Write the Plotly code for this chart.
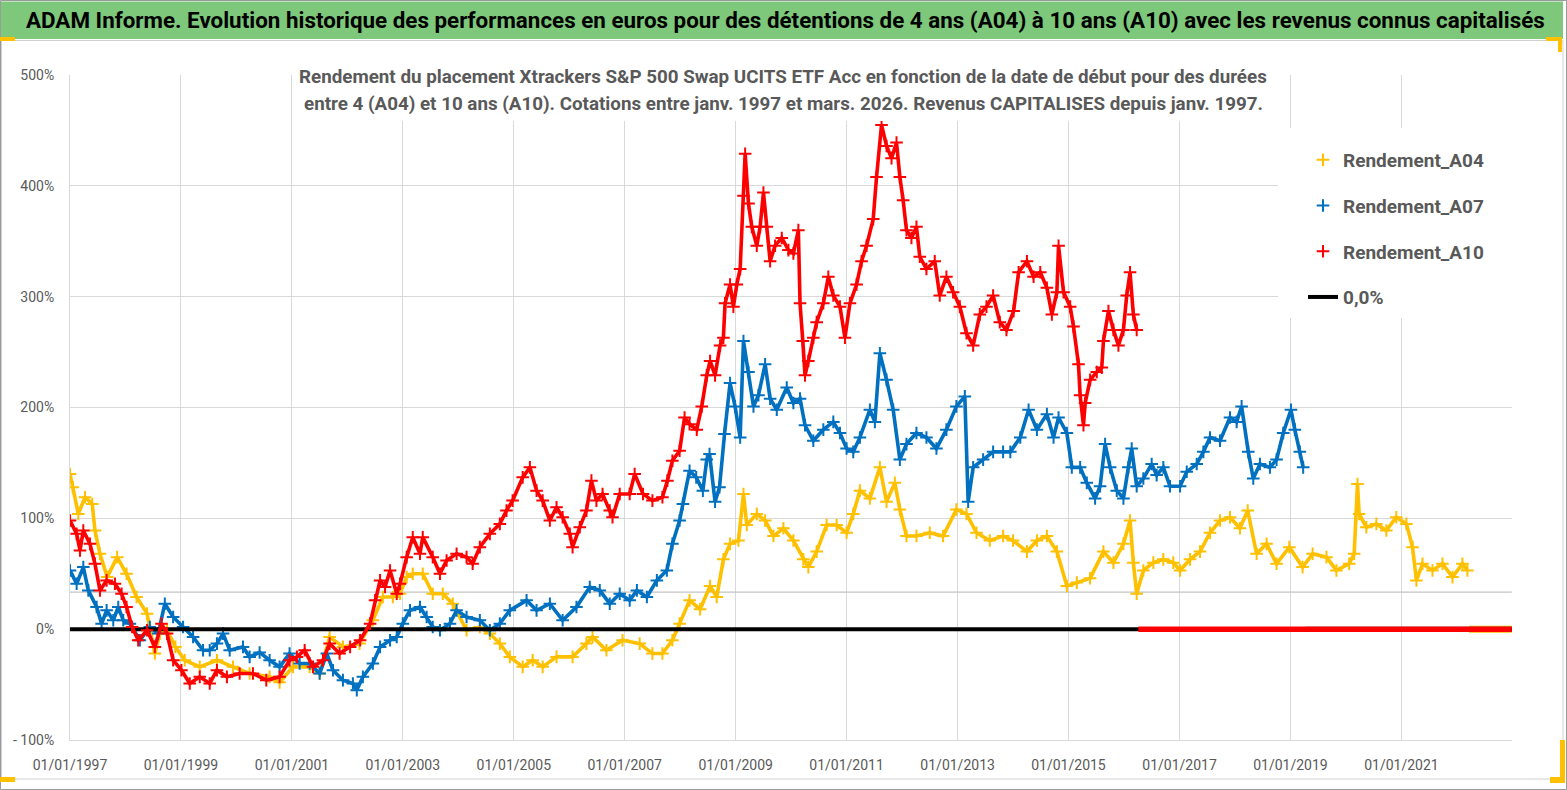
import plotly.graph_objects as go
import pandas as pd

W, H = 1567, 790
L, R, T, B = 70, 55, 75, 50

FONT = "Roboto, sans-serif"

title = ("ADAM Informe. Evolution historique des performances en euros pour des détentions "
         "de 4 ans (A04) à 10 ans (A10) avec les revenus connus capitalisés")
subtitle1 = "Rendement du placement Xtrackers S&amp;P 500 Swap UCITS ETF Acc en fonction de la date de début pour des durées"
subtitle2 = "entre 4 (A04) et 10 ans (A10). Cotations entre janv. 1997 et mars. 2026. Revenus CAPITALISES depuis janv. 1997."

y_tickvals = [-100, 0, 100, 200, 300, 400, 500]
y_ticktext = ["- 100%", "0%", "100%", "200%", "300%", "400%", "500%"]

# ---- Rendement_A04 (start date as decimal year, return in %) ----
a04_t = [1997.00, 1997.05, 1997.15, 1997.27, 1997.40, 1997.45, 1997.54, 1997.67, 1997.85, 1998.02,
         1998.20, 1998.39, 1998.53, 1998.62, 1998.75, 1998.90, 1999.07, 1999.34, 1999.65, 1999.94,
         2000.24, 2000.60, 2000.78, 2001.02, 2001.32, 2001.50, 2001.68, 2001.92, 2002.22, 2002.46,
         2002.64, 2002.82, 2002.95, 2003.07, 2003.18, 2003.36, 2003.54, 2003.72, 2003.90, 2004.15,
         2004.39, 2004.57, 2004.75, 2004.93, 2005.16, 2005.34, 2005.52, 2005.77, 2006.06, 2006.31,
         2006.42, 2006.67, 2006.96, 2007.27, 2007.50, 2007.68, 2007.86, 2007.99, 2008.17, 2008.36,
         2008.54, 2008.66, 2008.78, 2008.90, 2009.05, 2009.14, 2009.20, 2009.38, 2009.53, 2009.68,
         2009.86, 2010.04, 2010.22, 2010.31, 2010.46, 2010.64, 2010.82, 2011.00, 2011.12, 2011.24,
         2011.42, 2011.60, 2011.72, 2011.87, 2011.96, 2012.08, 2012.26, 2012.50, 2012.74, 2012.98,
         2013.16, 2013.34, 2013.58, 2013.82, 2014.00, 2014.25, 2014.43, 2014.61, 2014.79, 2014.97,
         2015.15, 2015.39, 2015.63, 2015.81, 2015.99, 2016.11, 2016.17, 2016.23, 2016.35, 2016.53,
         2016.71, 2016.89, 2017.01, 2017.19, 2017.37, 2017.55, 2017.73, 2017.91, 2018.09, 2018.23,
         2018.39, 2018.57, 2018.75, 2018.98, 2019.22, 2019.40, 2019.65, 2019.83, 2020.06, 2020.15,
         2020.21, 2020.24, 2020.37, 2020.55, 2020.73, 2020.91, 2021.09, 2021.20, 2021.27, 2021.38,
         2021.56, 2021.74, 2021.92, 2022.10, 2022.19]
a04_v = [140, 128, 104, 119, 113, 89, 68, 47, 65, 50,
         29, 14, -22, -4, -1, -16, -28, -34, -28, -34,
         -40, -43, -48, -34, -34, -40, -7, -16, -13, 8,
         29, 29, 32, 47, 50, 50, 32, 32, 23, -1,
         2, -4, -13, -25, -34, -28, -34, -25, -25, -13,
         -7, -19, -10, -13, -22, -22, -10, 5, 26, 18,
         39, 29, 63, 77, 80, 122, 94, 104, 98, 84,
         91, 80, 63, 56, 70, 94, 94, 87, 104, 125,
         118, 146, 115, 132, 108, 84, 84, 87, 84, 108,
         104, 87, 80, 84, 80, 70, 80, 84, 70, 39,
         42, 46, 70, 60, 77, 98, 60, 32, 53, 60,
         63, 60, 53, 63, 70, 87, 98, 101, 91, 107,
         68, 77, 59, 74, 56, 68, 65, 53, 59, 68,
         131, 104, 92, 95, 89, 101, 95, 74, 44, 59,
         53, 59, 47, 59, 53]

# ---- Rendement_A07 ----
a07_t = [1997.00, 1997.12, 1997.24, 1997.33, 1997.48, 1997.57, 1997.66, 1997.78, 1997.87, 1997.96,
         1998.08, 1998.26, 1998.44, 1998.59, 1998.71, 1998.86, 1999.04, 1999.22, 1999.40, 1999.52,
         1999.65, 1999.76, 1999.88, 2000.12, 2000.24, 2000.42, 2000.60, 2000.78, 2000.96, 2001.14,
         2001.32, 2001.50, 2001.63, 2001.74, 2001.92, 2002.10, 2002.17, 2002.28, 2002.46, 2002.59,
         2002.77, 2002.89, 2003.00, 2003.13, 2003.31, 2003.43, 2003.54, 2003.67, 2003.85, 2003.97,
         2004.15, 2004.39, 2004.57, 2004.75, 2004.93, 2005.23, 2005.41, 2005.65, 2005.88, 2006.13,
         2006.37, 2006.55, 2006.73, 2006.91, 2007.09, 2007.22, 2007.40, 2007.58, 2007.76, 2007.86,
         2007.99, 2008.05, 2008.17, 2008.29, 2008.41, 2008.48, 2008.53, 2008.63, 2008.71, 2008.80,
         2008.90, 2008.99, 2009.08, 2009.14, 2009.23, 2009.32, 2009.41, 2009.53, 2009.62, 2009.74,
         2009.92, 2010.04, 2010.16, 2010.25, 2010.40, 2010.58, 2010.76, 2010.88, 2011.00, 2011.12,
         2011.24, 2011.42, 2011.51, 2011.60, 2011.72, 2011.84, 2011.96, 2012.08, 2012.26, 2012.44,
         2012.62, 2012.80, 2012.98, 2013.13, 2013.19, 2013.28, 2013.46, 2013.64, 2013.82, 2013.95,
         2014.13, 2014.28, 2014.43, 2014.61, 2014.73, 2014.82, 2014.97, 2015.06, 2015.21, 2015.33,
         2015.48, 2015.57, 2015.66, 2015.75, 2015.87, 2015.99, 2016.08, 2016.14, 2016.23, 2016.35,
         2016.50, 2016.59, 2016.71, 2016.83, 2017.01, 2017.13, 2017.31, 2017.43, 2017.55, 2017.73,
         2017.91, 2018.03, 2018.12, 2018.24, 2018.33, 2018.45, 2018.63, 2018.75, 2018.87, 2019.01,
         2019.08, 2019.17, 2019.23]
a07_v = [53, 41, 56, 35, 20, 5, 17, 8, 20, 8,
         5, -10, 2, -4, 23, 11, 2, -7, -19, -19,
         -13, -4, -19, -16, -25, -21, -28, -34, -22, -31,
         -31, -40, -22, -37, -46, -49, -55, -43, -31, -16,
         -10, -7, 5, 17, 20, 11, 2, -1, 5, 17,
         11, 8, -1, 5, 17, 26, 17, 23, 8, 20,
         38, 35, 23, 32, 26, 35, 29, 44, 53, 77,
         98, 113, 143, 137, 125, 153, 158, 115, 128, 176,
         222, 201, 173, 260, 232, 201, 211, 239, 208, 198,
         218, 204, 208, 184, 170, 180, 187, 177, 163, 160,
         173, 198, 187, 249, 225, 198, 153, 167, 177, 173,
         163, 180, 201, 210, 115, 146, 153, 160, 160, 160,
         173, 198, 180, 194, 173, 191, 177, 146, 146, 132,
         118, 129, 167, 146, 125, 118, 146, 163, 129, 136,
         149, 139, 146, 129, 129, 142, 149, 160, 173, 170,
         191, 187, 201, 160, 136, 149, 146, 153, 177, 198,
         180, 160, 146]

# ---- Rendement_A10 ----
a10_t = [1997.00, 1997.12, 1997.18, 1997.24, 1997.36, 1997.45, 1997.54, 1997.66, 1997.81, 1997.93,
         1998.02, 1998.12, 1998.23, 1998.39, 1998.53, 1998.65, 1998.75, 1998.86, 1999.01, 1999.16,
         1999.34, 1999.52, 1999.65, 1999.83, 2000.06, 2000.30, 2000.54, 2000.78, 2000.96, 2001.09,
         2001.23, 2001.38, 2001.56, 2001.68, 2001.86, 2002.05, 2002.23, 2002.41, 2002.50, 2002.59,
         2002.68, 2002.77, 2002.89, 2002.95, 2003.07, 2003.18, 2003.31, 2003.36, 2003.54, 2003.67,
         2003.79, 2003.97, 2004.15, 2004.26, 2004.39, 2004.57, 2004.75, 2004.87, 2004.98, 2005.16,
         2005.29, 2005.41, 2005.52, 2005.65, 2005.77, 2005.88, 2006.01, 2006.06, 2006.19, 2006.31,
         2006.40, 2006.49, 2006.60, 2006.73, 2006.78, 2006.91, 2007.09, 2007.18, 2007.33, 2007.50,
         2007.68, 2007.77, 2007.86, 2007.99, 2008.08, 2008.17, 2008.30, 2008.39, 2008.48, 2008.54,
         2008.63, 2008.72, 2008.78, 2008.81, 2008.90, 2008.96, 2009.02, 2009.08, 2009.14, 2009.17,
         2009.23, 2009.29, 2009.38, 2009.44, 2009.50, 2009.56, 2009.62, 2009.71, 2009.83, 2009.95,
         2010.04, 2010.13, 2010.16, 2010.21, 2010.25, 2010.31, 2010.40, 2010.46, 2010.58, 2010.67,
         2010.76, 2010.88, 2010.97, 2011.06, 2011.18, 2011.27, 2011.36, 2011.48, 2011.54, 2011.63,
         2011.72, 2011.81, 2011.90, 2011.96, 2012.02, 2012.08, 2012.17, 2012.26, 2012.32, 2012.44,
         2012.59, 2012.68, 2012.80, 2012.92, 2013.04, 2013.16, 2013.28, 2013.40, 2013.52, 2013.64,
         2013.76, 2013.88, 2014.01, 2014.10, 2014.25, 2014.37, 2014.49, 2014.61, 2014.70, 2014.79,
         2014.82, 2014.91, 2015.03, 2015.09, 2015.18, 2015.21, 2015.27, 2015.30, 2015.39, 2015.51,
         2015.60, 2015.63, 2015.72, 2015.81, 2015.90, 2015.99, 2016.05, 2016.11, 2016.17, 2016.23]
a10_v = [98, 86, 71, 89, 77, 59, 35, 44, 41, 32,
         20, 2, -10, -1, -16, 5, -4, -28, -37, -49,
         -43, -49, -37, -43, -40, -40, -46, -43, -28, -25,
         -19, -34, -28, -13, -22, -16, -10, 5, 26, 44,
         38, 53, 32, 41, 65, 83, 68, 83, 65, 50,
         62, 68, 65, 59, 74, 86, 95, 107, 116, 137,
         146, 125, 116, 98, 110, 101, 86, 74, 92, 107,
         134, 116, 122, 107, 101, 122, 122, 140, 122, 116,
         119, 134, 152, 161, 191, 185, 180, 201, 229, 242,
         229, 256, 263, 294, 311, 291, 311, 325, 391, 429,
         384, 363, 346, 363, 394, 363, 332, 346, 353, 342,
         339, 360, 294, 260, 229, 242, 263, 277, 294, 318,
         301, 291, 263, 294, 311, 332, 346, 370, 408, 455,
         436, 425, 439, 408, 387, 360, 353, 363, 336, 325,
         332, 301, 318, 304, 291, 267, 256, 284, 291, 301,
         277, 270, 287, 322, 332, 318, 322, 308, 284, 304,
         346, 304, 291, 273, 239, 211, 184, 204, 225, 232,
         236, 260, 287, 270, 256, 270, 301, 322, 284, 270]

# ---- periods where the return is shown as 0 (no complete holding period yet) ----
a04_zero_t = [2022.22, 2022.99]
a07_zero_t = [2019.27, 2022.99]
a10_zero_t = [2016.26, 2022.99]
zero_line_t = [1997.00, 2022.99]
zero_line_v = [0, 0]
grey_level_t = [1997.00, 2022.99]
grey_level_v = [33.5, 33.5]

C_A04, C_A07, C_A10 = "#FFC000", "#0070C0", "#FF0000"
GRID = "#D9D9D9"
TXT = "#595959"


def to_date(ts):
    out = []
    for t in ts:
        y = int(t)
        out.append(pd.Timestamp(y, 1, 1) + pd.Timedelta(days=(t - y) * 365.25))
    return out


def xp(px):
    return (px - L) / (W - L - R)


def yp(py):
    return (H - B - py) / (H - T - B)


fig = go.Figure()

fig.add_trace(go.Scatter(x=to_date(grey_level_t), y=grey_level_v, mode="lines",
                         line=dict(color="#C4C4C4", width=1.2), showlegend=False, hoverinfo="skip"))


def add_series(t, v, color, name, rank):
    d = to_date(t)
    fig.add_trace(go.Scatter(x=d, y=v, mode="lines", line=dict(color=color, width=3.6),
                             showlegend=False, hoverinfo="skip"))
    fig.add_trace(go.Scatter(x=d, y=v, mode="markers", name=name, legendgroup=name, legendrank=rank,
                             marker=dict(symbol="cross-thin", size=9, color=color,
                                         line=dict(color=color, width=2))))


add_series(a04_t, a04_v, C_A04, "<b>Rendement_A04</b>", 1)
fig.add_trace(go.Scatter(x=to_date(a04_zero_t), y=[0, 0], mode="lines", line=dict(color=C_A04, width=7),
                         showlegend=False, hoverinfo="skip"))
add_series(a07_t, a07_v, C_A07, "<b>Rendement_A07</b>", 2)
fig.add_trace(go.Scatter(x=to_date(a07_zero_t), y=[0, 0], mode="lines", line=dict(color=C_A07, width=5),
                         showlegend=False, hoverinfo="skip"))
fig.add_trace(go.Scatter(x=to_date(zero_line_t), y=zero_line_v, mode="lines", name="<b>0,0%</b>",
                         legendgroup="zero", legendrank=4, line=dict(color="#000000", width=4)))
add_series(a10_t, a10_v, C_A10, "<b>Rendement_A10</b>", 3)
fig.add_trace(go.Scatter(x=to_date(a10_zero_t), y=[0, 0], mode="lines", line=dict(color=C_A10, width=5.5),
                         showlegend=False, hoverinfo="skip"))

shapes = []
# legend and subtitle white boxes
shapes.append(dict(type="rect", xref="paper", yref="paper", x0=xp(1278), x1=xp(1512), y0=yp(318), y1=yp(128),
                   fillcolor="white", line=dict(width=0), layer="above"))
shapes.append(dict(type="rect", xref="paper", yref="paper", x0=xp(296), x1=xp(1270), y0=yp(121), y1=yp(62),
                   fillcolor="white", line=dict(width=0), layer="above"))
# title bar
shapes.append(dict(type="rect", xref="paper", yref="paper", x0=xp(1), x1=xp(1563), y0=yp(39), y1=yp(1.5),
                   fillcolor="#7DC87A", line=dict(width=0), layer="above"))
# chart border and outer border
shapes.append(dict(type="rect", xref="paper", yref="paper", x0=xp(1.5), x1=xp(1563), y0=yp(779), y1=yp(40.5),
                   line=dict(color="#D0D0D0", width=1), layer="above"))
shapes.append(dict(type="rect", xref="paper", yref="paper", x0=xp(0.5), x1=xp(1566.5), y0=yp(789.5), y1=yp(0.5),
                   line=dict(color="#9A9A9A", width=1), layer="above"))
# orange corner handles
for (x0, x1, y0, y1) in [(0, 15, 37, 41), (1546, 1562, 37, 41), (1558, 1562, 37, 52),
                         (0, 15, 777, 782), (1550, 1565, 777, 783), (1560, 1565, 740, 783)]:
    shapes.append(dict(type="rect", xref="paper", yref="paper", x0=xp(x0), x1=xp(x1), y0=yp(y1), y1=yp(y0),
                       fillcolor="#FFC000", line=dict(width=0), layer="above"))

annotations = [
    dict(text="<b>" + title + "</b>", xref="paper", yref="paper", x=xp(785), y=yp(20), showarrow=False,
         xanchor="center", yanchor="middle", font=dict(family=FONT, size=22.4, color="#000000")),
    dict(text="<b>" + subtitle1 + "</b>", xref="paper", yref="paper", x=xp(783), y=yp(77), showarrow=False,
         xanchor="center", yanchor="middle", font=dict(family=FONT, size=18.8, color=TXT)),
    dict(text="<b>" + subtitle2 + "</b>", xref="paper", yref="paper", x=xp(783), y=yp(104), showarrow=False,
         xanchor="center", yanchor="middle", font=dict(family=FONT, size=18.8, color=TXT)),
]

fig.update_layout(
    width=W, height=H,
    margin=dict(l=L, r=R, t=T, b=B),
    paper_bgcolor="white", plot_bgcolor="white",
    font=dict(family=FONT, color=TXT),
    shapes=shapes, annotations=annotations,
    showlegend=True,
    legend=dict(x=xp(1303), y=yp(141), xanchor="left", yanchor="top", bgcolor="rgba(0,0,0,0)",
                font=dict(family=FONT, size=19, color=TXT), tracegroupgap=18, itemwidth=30,
                traceorder="grouped"),
    xaxis=dict(type="date", range=[pd.Timestamp(1997, 1, 1), pd.Timestamp(2022, 12, 30)],
               tick0="1997-01-01", dtick="M24", tickformat="%d/%m/%Y",
               showgrid=True, gridcolor=GRID, gridwidth=1, zeroline=False,
               showline=True, linecolor=GRID, ticks="", ticklabelstandoff=12,
               tickfont=dict(family=FONT, size=14, color=TXT)),
    yaxis=dict(range=[-100, 500], tickvals=y_tickvals, ticktext=y_ticktext,
               showgrid=True, gridcolor=GRID, gridwidth=1, zeroline=False,
               showline=True, linecolor=GRID, ticks="", ticklabelstandoff=12,
               tickfont=dict(family=FONT, size=14, color=TXT)),
)

fig.write_html("out.html", config={"displayModeBar": False},
               post_script="document.body.style.margin='0px';")
